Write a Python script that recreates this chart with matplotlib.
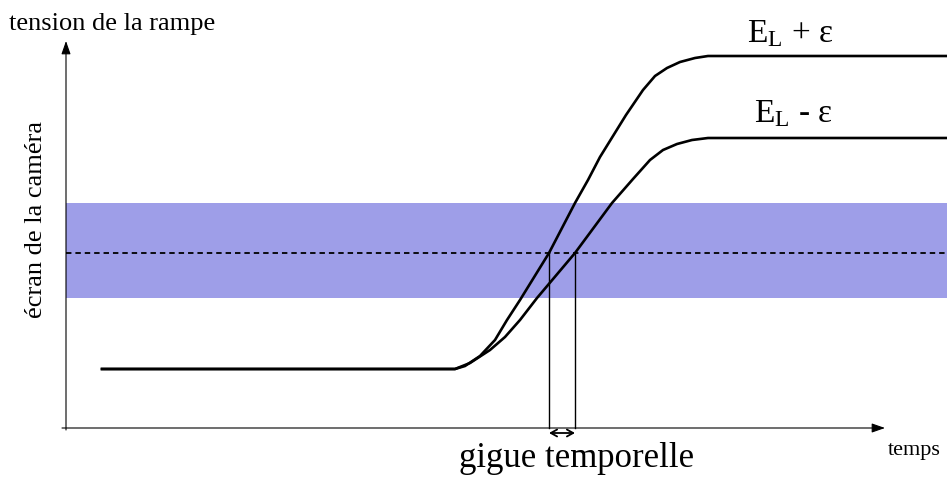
import numpy as np
import matplotlib
matplotlib.use("Agg")
import matplotlib.pyplot as plt

plt.rcParams['font.family'] = ['Liberation Serif', 'DejaVu Serif']
plt.rcParams['mathtext.fontset'] = 'custom'
plt.rcParams['mathtext.rm'] = 'Liberation Serif'
plt.rcParams['mathtext.it'] = 'Liberation Serif'

# ramp curves (time, voltage), origin at the axes corner
t_high = [36, 389, 399, 414, 429, 441, 454, 483, 509, 522, 534, 560, 577, 589, 601, 614, 629, 642, 881]
v_high = [59, 59, 62, 72, 88, 108, 128, 175, 225, 248, 271, 313, 338, 352, 360, 366, 370, 372, 372]
t_low = [36, 389, 404, 424, 439, 454, 471, 509, 546, 567, 584, 597, 611, 626, 642, 881]
v_low = [59, 59, 65, 78, 91, 108, 130, 175, 225, 249, 268, 278, 284, 288, 290, 290]

threshold = 175          # dashed line
band = (130, 225)        # camera screen band
jitter = (483, 509)      # crossing times of the two ramps

fig = plt.figure(figsize=(9.47, 4.78), dpi=100)
ax = fig.add_axes([0, 0, 1, 1])
ax.set_xlim(-66, 881)
ax.set_ylim(-50, 428)
ax.axis('off')

# band + threshold
ax.fill_between([0, 881], band[0], band[1], color='#9e9ee8', lw=0, zorder=1)
ax.plot([0, 881], [threshold, threshold], color='black', lw=1.3, ls=(0, (3, 2.2)), zorder=2)

# the two ramps
ax.plot(t_high, v_high, color='black', lw=1.9, solid_joinstyle='round', zorder=3)
ax.plot(t_low, v_low, color='black', lw=1.9, solid_joinstyle='round', zorder=3)

# axes with arrows
ax.annotate('', xy=(819, 0), xytext=(-4, 0),
            arrowprops=dict(arrowstyle='-|>,head_length=0.8,head_width=0.28', color='black', lw=0.8, shrinkA=0, shrinkB=0))
ax.annotate('', xy=(0, 387), xytext=(0, -2),
            arrowprops=dict(arrowstyle='-|>,head_length=0.8,head_width=0.28', color='black', lw=0.8, shrinkA=0, shrinkB=0))

# jitter markers
for tj in jitter:
    ax.plot([tj, tj], [0, threshold], color='black', lw=1.0, zorder=2)
ax.annotate('', xy=(jitter[1], -5), xytext=(jitter[0], -5),
            arrowprops=dict(arrowstyle='<->,head_length=0.45,head_width=0.25', color='black', lw=1.3, shrinkA=0, shrinkB=0))

# labels
ax.text(-57, 404, 'tension de la rampe', fontsize=19, ha='left', va='center')
ax.text(-30, 208, 'écran de la caméra', fontsize=19, rotation=90, ha='center', va='center')
ax.text(822, -22, 'temps', fontsize=16, ha='left', va='center')
ax.text(511, -39, 'gigue temporelle', fontsize=25, ha='center', va='baseline')
ax.text(681, 386, r'$\mathrm{E_L}$ + ε', fontsize=24, ha='left', va='baseline')
ax.text(688, 306, r'$\mathrm{E_L}$ - ε', fontsize=24, ha='left', va='baseline')

fig.savefig('out.png', dpi=100)
